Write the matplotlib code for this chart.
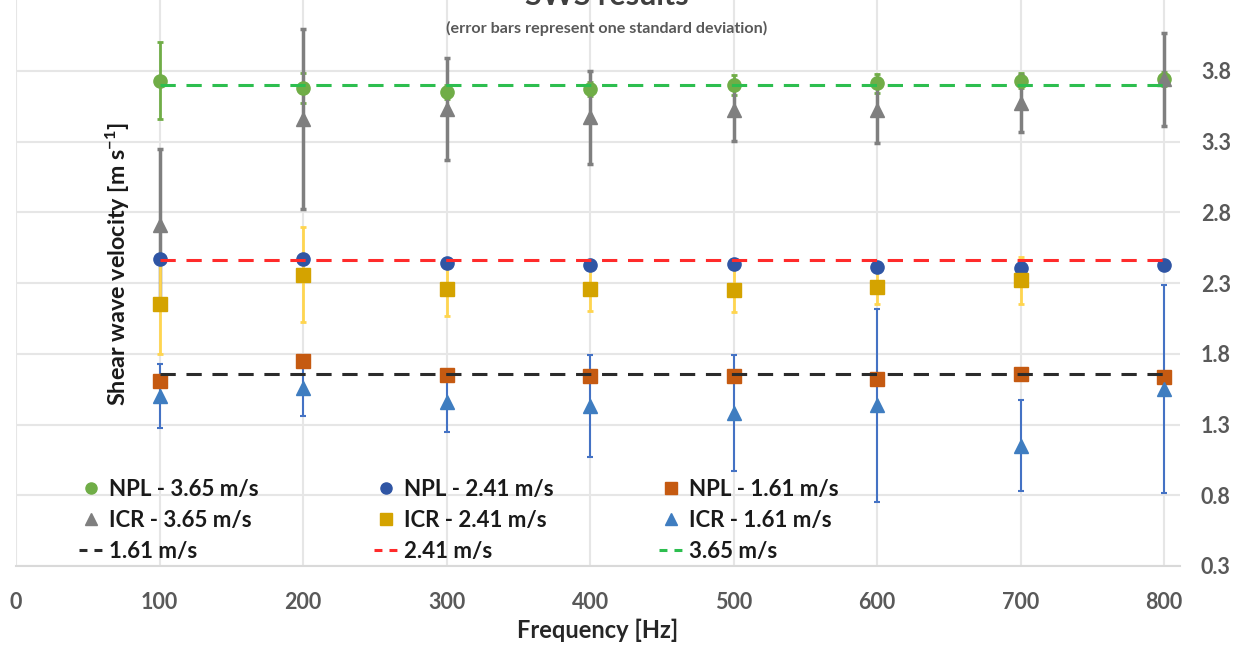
import numpy as np
import matplotlib
matplotlib.use("Agg")
import matplotlib.pyplot as plt
from matplotlib.lines import Line2D

plt.rcParams['font.family'] = ['Lato', 'DejaVu Sans']
plt.rcParams['mathtext.fontset'] = 'custom'
plt.rcParams['mathtext.rm'] = 'Lato:bold'
plt.rcParams['mathtext.bf'] = 'Lato:bold'
plt.rcParams['mathtext.default'] = 'rm'

# ---------------- data ----------------
freq = [100, 200, 300, 400, 500, 600, 700, 800]

npl_365 = [3.68, 3.63, 3.60, 3.62, 3.65, 3.66, 3.68, 3.69]
npl_365_sd = [0.27, 0.105, 0.05, 0.05, 0.07, 0.07, 0.055, 0.05]
icr_365 = [2.66, 3.41, 3.48, 3.42, 3.47, 3.47, 3.52, 3.69]
icr_365_sd = [0.54, 0.635, 0.36, 0.33, 0.215, 0.23, 0.20, 0.33]

npl_241 = [2.42, 2.42, 2.39, 2.38, 2.385, 2.36, 2.355, 2.38]
npl_241_sd = [0.02, 0.02, 0.02, 0.02, 0.02, 0.02, 0.02, 0.02]
icr_241 = [2.10, 2.31, 2.21, 2.21, 2.20, 2.22, 2.27, np.nan]
icr_241_sd = [0.35, 0.335, 0.19, 0.16, 0.155, 0.12, 0.165, np.nan]

npl_161 = [1.555, 1.70, 1.60, 1.59, 1.59, 1.57, 1.607, 1.583]
npl_161_sd = [0.03, 0.03, 0.03, 0.03, 0.03, 0.03, 0.03, 0.03]
icr_161 = [1.45, 1.51, 1.41, 1.38, 1.33, 1.385, 1.10, 1.50]
icr_161_sd = [0.225, 0.20, 0.21, 0.36, 0.41, 0.68, 0.32, 0.735]

ref_speeds = [1.61, 2.41, 3.65]
ref_labels = ['1.61 m/s', '2.41 m/s', '3.65 m/s']

y_ticks = [0.25, 0.75, 1.25, 1.75, 2.25, 2.75, 3.25, 3.75]
y_tick_labels = ['0.3', '0.8', '1.3', '1.8', '2.3', '2.8', '3.3', '3.8']
x_ticks = [0, 100, 200, 300, 400, 500, 600, 700, 800]

# ---------------- figure ----------------
W, H = 1249, 646
fig = plt.figure(figsize=(W / 100, H / 100), dpi=100)
ax = fig.add_axes([16 / W, 80 / H, (1180 - 16) / W, 566 / H])
ax.set_xlim(0, 811)
ax.set_ylim(0.25, 4.25)

grid_c = '#E6E6E6'
ax.set_xticks(x_ticks)
ax.set_yticks(y_ticks)
ax.set_yticklabels(y_tick_labels)
ax.grid(True, color=grid_c, linewidth=1.5, zorder=0)
ax.set_axisbelow(True)
for s in ['top', 'left', 'right']:
    ax.spines[s].set_visible(False)
ax.spines['bottom'].set_color('#D9D9D9')
ax.spines['bottom'].set_linewidth(1.5)
ax.yaxis.tick_right()
ax.tick_params(axis='both', length=0, labelsize=15.5, labelcolor='#595959')
ax.tick_params(axis='y', pad=15)
ax.tick_params(axis='x', pad=19)
for lab in ax.get_xticklabels() + ax.get_yticklabels():
    lab.set_fontweight('bold')

ax.set_xlabel('Frequency [Hz]', fontsize=17, fontweight='bold', color='#262626', labelpad=4)

series = [
    (npl_365, npl_365_sd, 'o', '#70AD47', '#70AD47', 9.5, 2.0, 'NPL - 3.65 m/s'),
    (icr_365, icr_365_sd, '^', '#7F7F7F', '#7F7F7F', 10.5, 2.5, 'ICR - 3.65 m/s'),
    (npl_241, npl_241_sd, 'o', '#2F55A4', '#2F55A4', 9.5, 1.5, 'NPL - 2.41 m/s'),
    (icr_241, icr_241_sd, 's', '#D4A300', '#FFD54F', 10.5, 2.0, 'ICR - 2.41 m/s'),
    (npl_161, npl_161_sd, 's', '#C55A11', '#C55A11', 9.5, 1.5, 'NPL - 1.61 m/s'),
    (icr_161, icr_161_sd, '^', '#3F7DC0', '#4472C4', 10.5, 1.5, 'ICR - 1.61 m/s'),
]
handles = {}
for vals, sd, mk, mc, ec, ms, elw, lab in series:
    ax.errorbar(freq, vals, yerr=sd, fmt='none', ecolor=ec, elinewidth=elw,
                capsize=2.5, capthick=elw, zorder=2)
for vals, sd, mk, mc, ec, ms, elw, lab in series:
    ax.plot(freq, vals, linestyle='none', marker=mk, markersize=ms,
            markerfacecolor=mc, markeredgecolor=mc, zorder=3)
    handles[lab] = Line2D([], [], linestyle='none', marker=mk, markersize=8,
                          markerfacecolor=mc, markeredgecolor=mc)

line_cols = ['#2B2B2B', '#FF2B2B', '#2DBE4F']
for v, c, lab in zip(ref_speeds, line_cols, ref_labels):
    ax.plot([freq[0], freq[-1]], [v, v], color=c, linewidth=2.2,
            dashes=(5, 3.5), zorder=4)
    handles[lab] = Line2D([], [], color=c, linewidth=2.2, dashes=(2.6, 2.3))

columns = [
    (['NPL - 3.65 m/s', 'ICR - 3.65 m/s', '1.61 m/s'], 79),
    (['NPL - 2.41 m/s', 'ICR - 2.41 m/s', '2.41 m/s'], 374),
    (['NPL - 1.61 m/s', 'ICR - 1.61 m/s', '3.65 m/s'], 659),
]
fs_leg = 16
for labs, xpx in columns:
    leg = fig.legend([handles[k] for k in labs], labs, frameon=False,
                     loc='upper left', bbox_to_anchor=(xpx / W, 1 - 479 / H),
                     prop={'weight': 'bold', 'size': fs_leg}, handlelength=1.05,
                     handletextpad=0.32, labelspacing=0.45, borderpad=0,
                     borderaxespad=0)
    for t in leg.get_texts():
        t.set_color('#1a1a1a')

fig.text(118 / W, 1 - 264 / H, r'Shear wave velocity [m s$^{\mathregular{-1}}$]',
         rotation=90, ha='center', va='center', fontsize=16.8, fontweight='bold',
         color='#1a1a1a')

fig.text(607 / W, 1 - 28 / H, '(error bars represent one standard deviation)',
         ha='center', va='center', fontsize=11.6, fontweight='bold', color='#595959')
fig.text(607 / W, 1 + 4 / H, 'SWS results', ha='center', va='center',
         fontsize=22, fontweight='bold', color='#404040')

fig.savefig('out.png', dpi=100)
